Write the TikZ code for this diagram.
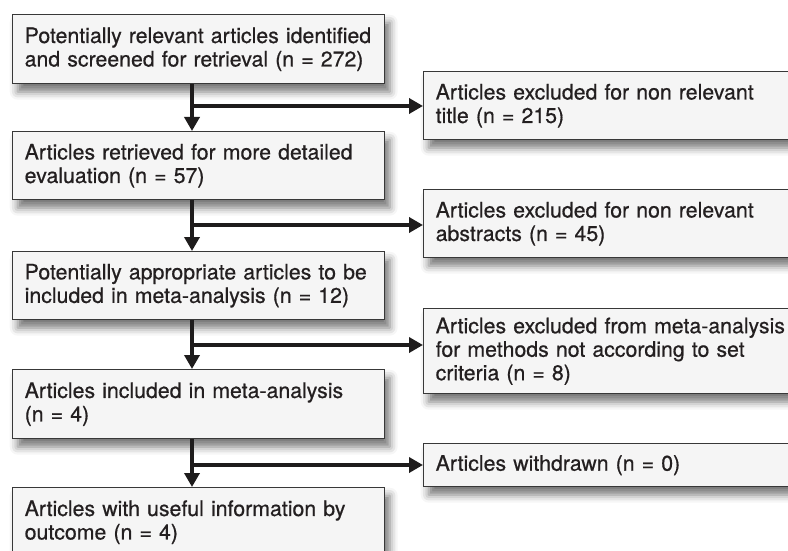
\documentclass[tikz,border=0pt]{standalone}
\usepackage{fontspec}
\setmainfont[FakeBold=0.6]{TeX Gyre Heros}
\usepackage{xcolor}
\usepackage{tikz}
\usetikzlibrary{arrows.meta,shadows.blur}
\definecolor{ink}{HTML}{231F20}
\definecolor{edge}{HTML}{383838}
\definecolor{boxfill}{HTML}{F5F5F5}
\definecolor{bar}{HTML}{1E1C1C}
\tikzset{
  box/.style={draw=edge, line width=1.4pt, fill=boxfill, text=ink, anchor=north west,
    align=left, inner xsep=12pt, inner ysep=0pt,
    font=\fontsize{21.3}{23.5}\selectfont,
    blur shadow={shadow xshift=5pt, shadow yshift=-8pt, shadow blur radius=8pt, shadow opacity=55}},
  lbox/.style={box, text width=348pt},
  rbox/.style={box, text width=354pt},
  arr/.style={draw=bar, line width=4pt, -{Triangle[length=14pt,width=15pt]}},
}

\begin{document}
\begin{tikzpicture}[x=1pt,y=-1pt]
  \def\xv{192}    % trunk line
  \clip (0,0) rectangle (788,551);

  % left column
  \node[lbox,minimum height=69pt] (L1) at (12,14) {Potentially relevant articles identified\\and screened for retrieval (n = 272)};
  \node[lbox,minimum height=68pt] (L2) at (12,131) {Articles retrieved for more detailed\\evaluation (n = 57)};
  \node[lbox,minimum height=68pt] (L3) at (12,251) {Potentially appropriate articles to be\\included in meta-analysis (n = 12)};
  \node[lbox,minimum height=69pt] (L4) at (12,369) {Articles included in meta-analysis\\(n = 4)};
  \node[lbox,minimum height=69pt] (L5) at (12,487) {Articles with useful information by\\outcome (n = 4)};

  % right column
  \node[rbox,minimum height=68pt] (R1) at (423,71) {Articles excluded for non relevant\\title (n = 215)};
  \node[rbox,minimum height=68pt] (R2) at (423,189) {Articles excluded for non relevant\\abstracts (n = 45)};
  \node[rbox,minimum height=85pt] (R3) at (423,308) {Articles excluded from meta-analysis\\for methods not according to set\\criteria (n = 8)};
  \node[rbox,minimum height=43pt] (R4) at (423,443) {Articles withdrawn (n = 0)};

  \coordinate (b1) at (\xv,106);
  \coordinate (b2) at (\xv,225);
  \coordinate (b3) at (\xv,345);
  \coordinate (b4) at (\xv,465);

  \draw[arr] (L1.south -| b1) -- (L2.north -| b1);
  \draw[arr] (L2.south -| b2) -- (L3.north -| b2);
  \draw[arr] (L3.south -| b3) -- (L4.north -| b3);
  \draw[arr] (L4.south -| b4) -- (L5.north -| b4);

  \draw[arr] (b1) -- (b1 -| R1.west);
  \draw[arr] (b2) -- (b2 -| R2.west);
  \draw[arr] (b3) -- (b3 -| R3.west);
  \draw[arr] (b4) -- (b4 -| R4.west);
\end{tikzpicture}
\end{document}
